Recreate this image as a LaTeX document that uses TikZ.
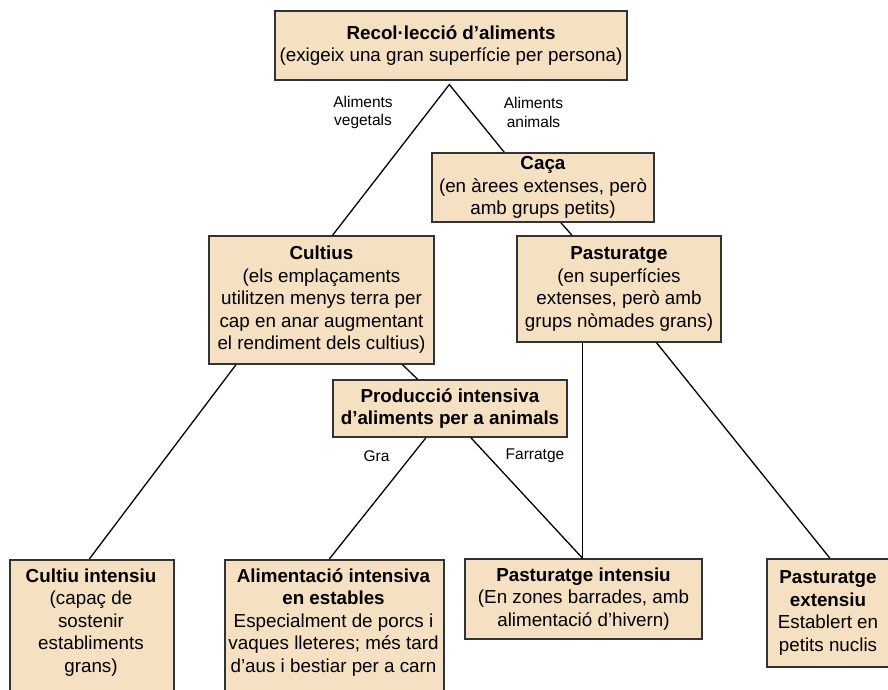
\documentclass[tikz,border=0pt]{standalone}
\usepackage{fontspec}
\setmainfont{Liberation Sans}
\usetikzlibrary{calc}
\definecolor{boxfill}{RGB}{245,224,193}
\definecolor{boxline}{RGB}{51,51,51}
\tikzset{
  box/.style={draw=boxline, line width=1.5pt, fill=boxfill, rectangle, inner sep=0pt, align=center,
    font=\fontsize{18.8}{22.5}\selectfont},
  txt/.style={inner sep=0pt, align=center, font=\fontsize{18.8}{22.5}\selectfont},
  lbl/.style={inner sep=0pt, align=center, font=\fontsize{15.5}{18.5}\selectfont},
  conn/.style={draw=black, line width=1.3pt}
}
\begin{document}
\begin{tikzpicture}[x=1pt, y=-1pt]
\useasboundingbox (0,0) rectangle (888,689);
\fill[white] (0,0) rectangle (888,689);
\begin{scope}
\clip (0,0) rectangle (888,689);
% boxes
\node[box, minimum width=352, minimum height=69] (top) at (451,45.5)
  {\textbf{Recol·lecció d’aliments}\\(exigeix una gran superfície per persona)};
\node[box, minimum width=222, minimum height=69] (caca) at (543,187.5)
  {\textbf{Caça}\\(en àrees extenses, però\\amb grups petits)};
\node[box, minimum width=225, minimum height=128] (cult) at (321.5,300)
  {\textbf{Cultius}\\(els emplaçaments\\utilitzen menys terra per\\cap en anar augmentant\\el rendiment dels cultius)};
\node[box, minimum width=204, minimum height=106] (past) at (619,289)
  {\textbf{Pasturatge}\\(en superfícies\\extenses, però amb\\grups nòmades grans)};
\node[box, minimum width=234, minimum height=57] (prod) at (450,408.5)
  {\textbf{Producció intensiva}\\\textbf{d’aliments per a animals}};
\node[box, minimum width=164, minimum height=150, anchor=north west] (ci) at (9,559) {};
\node[txt] (citext) at (91,622.5)
  {\textbf{Cultiu intensiu}\\(capaç de\\sostenir\\establiments\\grans)};
\node[box, minimum width=219, minimum height=150, anchor=north west] (alim) at (224,559) {};
\node[txt] (alimtext) at (333.5,622.5)
  {\textbf{Alimentació intensiva}\\\textbf{en estables}\\Especialment de porcs i\\vaques lleteres; més tard\\d’aus i bestiar per a carn};
\node[box, minimum width=237, minimum height=80] (pi) at (583.5,599)
  {\textbf{Pasturatge intensiu}\\(En zones barrades, amb\\alimentació d’hivern)};
\node[box, minimum width=122, minimum height=108] (pe) at (828,613)
  {\textbf{Pasturatge}\\\textbf{extensiu}\\Establert en\\petits nuclis};
% connectors
\coordinate (apex) at ($(top.south)+(-1.7,3.8)$);
\draw[conn] ($(cult.north west)+(124.3,0)$) -- (apex) -- ($(caca.north west)+(73,0)$);
\draw[conn] ($(caca.south west)+(129.7,0)$) -- ($(past.north west)+(55.7,0)$);
\draw[conn] ($(cult.south west)+(27.7,0)$) -- ($(ci.north west)+(80.3,0)$);
\draw[conn] ($(cult.south west)+(194.3,0)$) -- ($(prod.north west)+(85.3,0)$);
\draw[conn] ($(prod.south west)+(93.7,0)$) -- ($(alim.north west)+(105.3,0)$);
\draw[conn] ($(prod.south west)+(138.7,0)$) -- ($(pi.north west)+(118.3,0)$);
\draw[conn] ($(past.south west)+(66.3,0)$) -- ($(pi.north west)+(118.3,0)$);
\draw[conn] ($(past.south west)+(140.3,0)$) -- ($(pe.north west)+(63.7,0)$);
% labels
\node[lbl] (lveg) at (363,112.5) {Aliments\\vegetals};
\node[lbl] (lani) at (533.5,112.5) {Aliments\\animals};
\node[lbl] (lgra) at (376.5,456) {Gra};
\node[lbl] (lfar) at (535,456) {Farratge};
\end{scope}
\end{tikzpicture}
\end{document}
